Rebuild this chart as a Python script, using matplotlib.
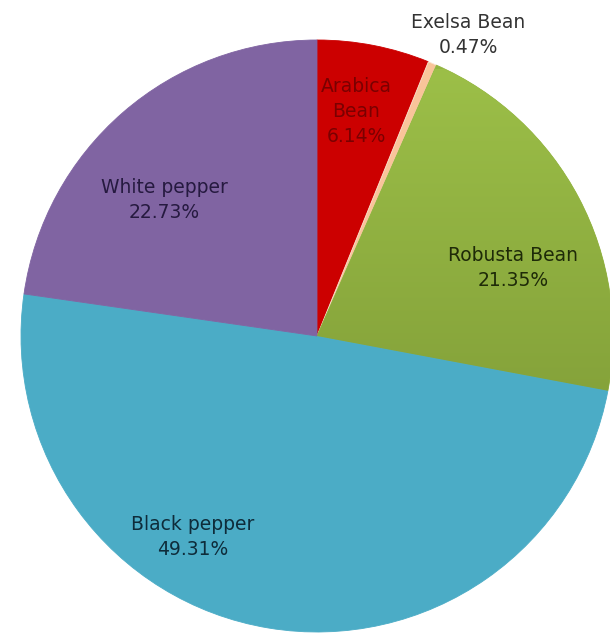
import numpy as np
import matplotlib
matplotlib.use('Agg')
import matplotlib.pyplot as plt
from matplotlib.colors import LinearSegmentedColormap

# data
names = ['Arabica\nBean', 'Exelsa Bean', 'Robusta Bean', 'Black pepper', 'White pepper']
shares = [6.14, 0.47, 21.35, 49.31, 22.73]
colors = ['#CC0000', '#F9C49A', '#93B440', '#4BACC6', '#8064A2']
text_colors = ['#7A0000', '#333333', '#1E2A08', '#0E2C3A', '#261A40']

# label centres in units of the pie radius (layout only)
label_xy = [(0.132, 0.757), (0.51, 1.017), (0.662, 0.23), (-0.419, -0.679), (-0.517, 0.459)]

W, H = 610, 636
cx, cy, R = 317, 336, 296   # pie centre / radius in pixels

fig = plt.figure(figsize=(W / 100, H / 100), dpi=100)
ax = fig.add_axes([0, 0, 1, 1])

wedges, _ = ax.pie(shares, colors=colors, startangle=90, counterclock=False,
                   radius=1.0, center=(0, 0), frame=True,
                   wedgeprops=dict(linewidth=0.6))
ax.set_xlim(-cx / R, (W - cx) / R)
ax.set_ylim(-(H - cy) / R, cy / R)
ax.set_aspect('equal')
ax.axis('off')
for w in wedges:
    w.set_edgecolor(w.get_facecolor())
wedges[1].set_edgecolor('#fbe3cf')

# soft vertical gradient on the green slice
green = LinearSegmentedColormap.from_list('g', ['#9CBF48', '#83A039'])
grad = np.linspace(0, 1, 256).reshape(-1, 1)
im = ax.imshow(grad, cmap=green, extent=(0, 1.05, -0.3, 0.9), origin='upper',
               aspect='auto', zorder=wedges[2].get_zorder() + 0.1)
im.set_clip_path(wedges[2])

pct = ['%.2f%%' % s for s in shares]
for i, (nm, p) in enumerate(zip(names, pct)):
    x, y = label_xy[i]
    ax.text(x, y, nm + '\n' + p, ha='center', va='center', fontsize=13.5,
            family='DejaVu Sans', color=text_colors[i], linespacing=1.4,
            zorder=10)

fig.savefig('out.png', dpi=100)
